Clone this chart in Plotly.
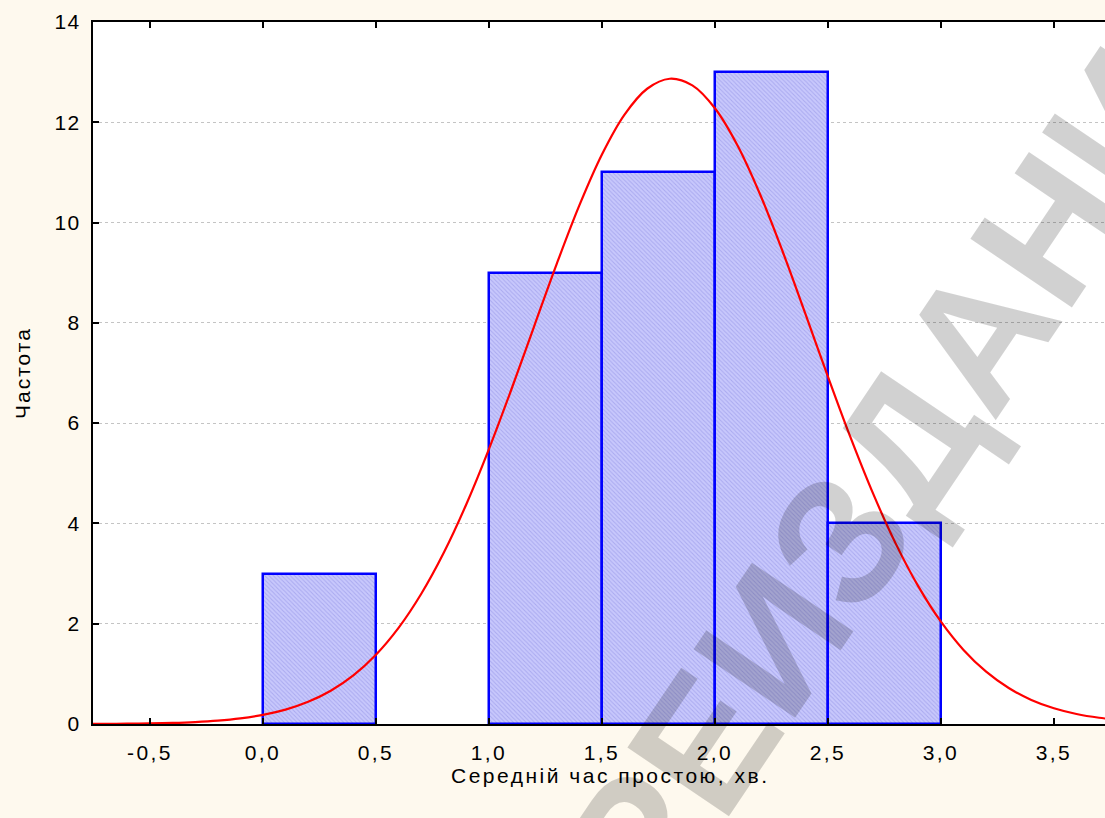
import plotly.graph_objects as go

# ---- data ----
bin_centers = [0.25, 1.25, 1.75, 2.25, 2.75]
bin_counts = [3, 9, 11, 13, 4]
bin_width = 0.5

curve_x = [-0.8, -0.7, -0.6, -0.5, -0.4, -0.3, -0.2, -0.1, 0.0, 0.1, 0.2, 0.3, 0.4,
           0.5, 0.6, 0.7, 0.8, 0.9, 1.0, 1.1, 1.2, 1.3, 1.4, 1.5, 1.6, 1.7, 1.8,
           1.9, 2.0, 2.1, 2.2, 2.3, 2.4, 2.5, 2.6, 2.7, 2.8, 2.9, 3.0, 3.1, 3.2,
           3.3, 3.4, 3.5, 3.6, 3.7, 3.8]
curve_y = [0.002, 0.004, 0.007, 0.013, 0.022, 0.039, 0.067, 0.112, 0.182, 0.287,
           0.442, 0.663, 0.969, 1.381, 1.917, 2.592, 3.414, 4.383, 5.483, 6.681,
           7.932, 9.176, 10.342, 11.358, 12.153, 12.669, 12.868, 12.735, 12.279,
           11.537, 10.560, 9.418, 8.184, 6.928, 5.715, 4.593, 3.597, 2.744, 2.040,
           1.477, 1.043, 0.717, 0.480, 0.313, 0.199, 0.124, 0.075]

x_tick_vals = [-0.5, 0.0, 0.5, 1.0, 1.5, 2.0, 2.5, 3.0, 3.5]
x_tick_text = ["-0,5", "0,0", "0,5", "1,0", "1,5", "2,0", "2,5", "3,0", "3,5"]
y_tick_vals = [0, 2, 4, 6, 8, 10, 12, 14]
y_tick_text = ["0", "2", "4", "6", "8", "10", "12", "14"]

x_title = "Середній час простою, хв."
y_title = "Частота"
watermark = "ПЕРЕИЗДАНИЕ"


def sp(t, s):
    return f'<span style="letter-spacing:{s}px">{t}</span>'


FAM = "Liberation Sans, Arial, sans-serif"
FS = 21

fig = go.Figure()

fig.add_trace(go.Bar(
    x=bin_centers, y=bin_counts, width=[bin_width] * len(bin_centers),
    marker=dict(
        color="#c6c6fb",
        line=dict(color="#0000ff", width=2.5),
        pattern=dict(shape="\\", size=3, solidity=0.33,
                     fgcolor="#aaaaf0", bgcolor="#c8c8fc", fillmode="replace"),
    ),
    showlegend=False, hoverinfo="skip",
))

fig.add_trace(go.Scatter(
    x=curve_x, y=curve_y, mode="lines",
    line=dict(color="#ff0000", width=2.2, shape="spline", smoothing=1.0),
    showlegend=False, hoverinfo="skip",
))

fig.update_layout(
    width=1105, height=818,
    margin=dict(l=93, r=0, t=22, b=94),
    paper_bgcolor="#fef9ee",
    plot_bgcolor="#ffffff",
    font=dict(family=FAM, size=FS, color="#000000"),
    bargap=0,
    xaxis=dict(
        range=[-0.752, 3.726],
        tickmode="array", tickvals=x_tick_vals,
        ticktext=[sp(t, 2.4) for t in x_tick_text],
        ticks="inside", ticklen=6, tickwidth=2, tickcolor="#000000",
        showline=True, linecolor="#000000", linewidth=2, mirror="allticks",
        showgrid=False, zeroline=False,
        ticklabelstandoff=9,
    ),
    yaxis=dict(
        range=[0, 14],
        tickmode="array", tickvals=y_tick_vals,
        ticktext=[sp(t, 1.5) for t in y_tick_text],
        ticks="inside", ticklen=6, tickwidth=2, tickcolor="#000000",
        showline=True, linecolor="#000000", linewidth=2, mirror=False,
        showgrid=True, gridcolor="#c4c4c4", griddash="dot", gridwidth=1,
        zeroline=False,
        ticklabelstandoff=6,
    ),
)

# axis titles
fig.add_annotation(
    text=sp(x_title, 2.5), xref="paper", yref="paper",
    x=(610 - 93) / 1012, y=(724 - 775) / 702,
    xanchor="center", yanchor="middle", showarrow=False,
    font=dict(family=FAM, size=FS, color="#000000"),
)
fig.add_annotation(
    text=sp(y_title, 2.0), xref="paper", yref="paper",
    x=(22 - 93) / 1012, y=(724 - 373) / 702,
    xanchor="center", yanchor="middle", showarrow=False, textangle=-90,
    font=dict(family=FAM, size=FS, color="#000000"),
)

# watermark
fig.add_annotation(
    text=watermark, xref="paper", yref="paper",
    x=(845 - 93) / 1012, y=(724 - 533) / 702,
    xanchor="center", yanchor="middle",
    textangle=-56, showarrow=False,
    font=dict(family=FAM, size=178, color="rgba(0,0,0,0.18)", weight="bold"),
)

fig.write_html("out.html", config={"displayModeBar": False},
               post_script="document.body.style.margin='0';")
